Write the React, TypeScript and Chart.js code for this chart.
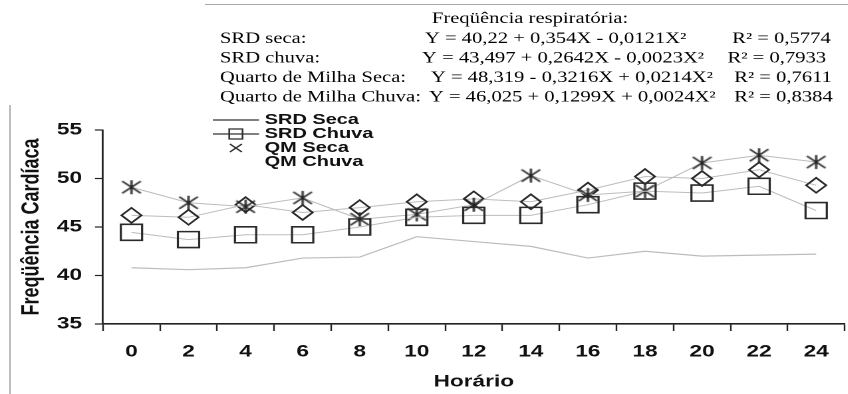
import React, { useEffect, useRef } from 'react';
import { Chart, registerables } from 'chart.js';

Chart.register(...registerables);

// ---------- data ----------
const hours = ['0', '2', '4', '6', '8', '10', '12', '14', '16', '18', '20', '22', '24'];
const srdSeca = [40.8, 40.6, 40.8, 41.8, 41.9, 44.0, 43.5, 43.0, 41.8, 42.5, 42.0, 42.1, 42.2];
const srdChuva = [44.45, 43.7, 44.2, 44.2, 45.0, 46.0, 46.2, 46.2, 47.3, 48.7, 48.5, 49.2, 46.7];
const qmSeca = [49.1, 47.5, 47.1, 48.0, 45.8, 46.3, 47.3, 50.3, 48.3, 48.7, 51.6, 52.4, 51.7];
const qmChuva = [46.2, 46.0, 47.3, 46.5, 47.0, 47.6, 47.9, 47.6, 48.8, 50.2, 50.0, 50.9, 49.3];
const seriesLabels = ['SRD Seca', 'SRD Chuva', 'QM Seca', 'QM Chuva'];
const yMin = 35;
const yMax = 55;
const yStep = 5;
const xTitle = 'Horário';
const yTitle = 'Freqüência Cardíaca';
const headerTitle = 'Freqüência respiratória:';
const eqNames = ['SRD seca:', 'SRD chuva:', 'Quarto de Milha Seca:', 'Quarto de Milha Chuva:'];
const eqFormulas = [
  'Y = 40,22 + 0,354X - 0,0121X²',
  'Y = 43,497 + 0,2642X - 0,0023X²',
  'Y = 48,319 - 0,3216X + 0,0214X²',
  'Y = 46,025 + 0,1299X + 0,0024X²',
];
const eqR2 = ['R² = 0,5774', 'R² = 0,7933', 'R² = 0,7611', 'R² = 0,8384'];

// ---------- layout (chart-space px; canvas is stretched horizontally) ----------
const STRETCH = 1.33;
const CW = 648;
const CH = 394;

function makeAsterisk(size: number, lw: number, color: string) {
  const c = document.createElement('canvas');
  c.width = size;
  c.height = size;
  const g = c.getContext('2d')!;
  g.strokeStyle = color;
  g.lineWidth = lw;
  const m = 1;
  g.beginPath();
  g.moveTo(m, m + 1);
  g.lineTo(size - m, size - m - 1);
  g.moveTo(size - m, m + 1);
  g.lineTo(m, size - m - 1);
  g.moveTo(size / 2, m);
  g.lineTo(size / 2, size - m);
  g.stroke();
  return c;
}

const overlayPlugin = {
  id: 'overlay',
  afterDraw(chart: any) {
    const ctx = chart.ctx as CanvasRenderingContext2D;
    ctx.save();
    // frame remnants
    ctx.strokeStyle = '#a8a8a8';
    ctx.lineWidth = 1;
    ctx.beginPath();
    ctx.moveTo(154, 4.5);
    ctx.lineTo(chart.width, 4.5);
    ctx.moveTo(7.5, 105);
    ctx.lineTo(7.5, chart.height);
    ctx.stroke();

    // header with regression equations
    ctx.fillStyle = '#000';
    ctx.font = '15.5px "Liberation Serif"';
    ctx.textBaseline = 'middle';
    ctx.textAlign = 'center';
    ctx.fillText(headerTitle, 398.5, 19);
    ctx.textAlign = 'left';
    const rowY = [39, 58.5, 78, 97.5];
    const eqX = [319.5, 317.3, 324, 322.5];
    const r2X = [550.5, 547, 552, 552];
    eqNames.forEach((n, i) => {
      ctx.fillText(n, 165.4, rowY[i]);
      ctx.fillText(eqFormulas[i], eqX[i], rowY[i]);
      ctx.fillText(eqR2[i], r2X[i], rowY[i]);
    });

    // legend
    const ds = chart.data.datasets;
    const legY = [120, 134, 148, 162];
    const x1 = 160;
    const x2 = 194.7;
    const mx = (x1 + x2) / 2;
    ctx.font = 'bold 15px "Liberation Sans"';
    ctx.fillStyle = '#111';
    ctx.strokeStyle = '#333';
    ctx.lineWidth = 1.3;
    ds.forEach((d: any, i: number) => {
      const y = legY[i];
      if (i === 0 || i === 1) {
        ctx.beginPath();
        ctx.moveTo(x1, y);
        ctx.lineTo(x2, y);
        ctx.stroke();
      }
      if (i === 1) {
        ctx.strokeRect(mx - 5, y - 5, 10, 10);
      }
      if (i === 2) {
        ctx.beginPath();
        ctx.moveTo(mx - 4.5, y - 4);
        ctx.lineTo(mx + 4.5, y + 4);
        ctx.moveTo(mx + 4.5, y - 4);
        ctx.lineTo(mx - 4.5, y + 4);
        ctx.stroke();
      }
      ctx.fillText(d.label, 199, y);
    });
    ctx.restore();
  },
};

export default function App() {
  const ref = useRef<HTMLCanvasElement | null>(null);

  useEffect(() => {
    const canvas = ref.current;
    if (!canvas) return;
    const asterisk = makeAsterisk(16, 1.6, '#222');
    const lineColor = '#bcbcbc';
    const markColor = '#2a2a2a';
    const tickFont = { family: '"Liberation Sans", Arial, sans-serif', weight: 'bold' as const, size: 17 };

    const chart = new Chart(canvas, {
      type: 'line',
      data: {
        labels: hours,
        datasets: [
          {
            label: seriesLabels[0],
            data: srdSeca,
            borderColor: lineColor,
            borderWidth: 1.2,
            pointRadius: 0,
            fill: false,
          },
          {
            label: seriesLabels[1],
            data: srdChuva,
            borderColor: lineColor,
            borderWidth: 1,
            pointStyle: 'rect',
            pointRadius: 11.3,
            pointBorderColor: markColor,
            pointBackgroundColor: 'rgba(0,0,0,0)',
            pointBorderWidth: 1.6,
            fill: false,
          },
          {
            label: seriesLabels[2],
            data: qmSeca,
            borderColor: lineColor,
            borderWidth: 1,
            pointStyle: asterisk as any,
            pointRadius: 8,
            fill: false,
          },
          {
            label: seriesLabels[3],
            data: qmChuva,
            borderColor: lineColor,
            borderWidth: 1,
            pointStyle: 'rectRot',
            pointRadius: 7.5,
            pointBorderColor: markColor,
            pointBackgroundColor: 'rgba(0,0,0,0)',
            pointBorderWidth: 1.6,
            fill: false,
          },
        ],
      },
      options: {
        responsive: false,
        animation: false,
        devicePixelRatio: 2,
        layout: { padding: { top: 130, left: 0, right: 0, bottom: 0 } },
        plugins: {
          legend: { display: false },
          tooltip: { enabled: false },
        },
        elements: { line: { tension: 0 } },
        scales: {
          x: {
            type: 'category',
            offset: true,
            grid: {
              offset: true,
              drawOnChartArea: false,
              drawTicks: true,
              tickLength: 7,
              tickColor: '#222',
              tickWidth: 1.2,
            },
            border: { display: true, color: '#222', width: 1.6 },
            ticks: {
              font: tickFont,
              color: '#111',
              padding: 10.8,
              maxRotation: 0,
              autoSkip: false,
            },
            title: {
              display: true,
              text: xTitle,
              font: tickFont,
              color: '#111',
              padding: { top: 0, bottom: 1.8 },
            },
            afterFit: (s: any) => {
              s.height = 70;
            },
          },
          y: {
            min: yMin,
            max: yMax,
            grid: {
              drawOnChartArea: false,
              drawTicks: true,
              tickLength: 6,
              tickColor: '#222',
              tickWidth: 1.2,
            },
            border: { display: true, color: '#222', width: 1.4 },
            ticks: {
              stepSize: yStep,
              font: tickFont,
              color: '#111',
              padding: 9.7,
            },
            title: {
              display: true,
              text: yTitle,
              font: { family: '"Liberation Sans", Arial, sans-serif', weight: 'bold', size: 18 },
              color: '#111',
              padding: { top: 13.2, bottom: 0 },
            },
            afterFit: (s: any) => {
              s.width = 77.4;
            },
          },
        },
      },
      plugins: [overlayPlugin],
    });
    return () => chart.destroy();
  }, []);

  return (
    <div
      style={{
        position: 'absolute',
        left: 0,
        top: 0,
        width: 848,
        height: 394,
        overflow: 'hidden',
        background: '#fff',
      }}
    >
      <canvas
        ref={ref}
        width={CW}
        height={CH}
        style={{
          position: 'absolute',
          left: 0,
          top: 0,
          width: CW,
          height: CH,
          transform: `scaleX(${STRETCH})`,
          transformOrigin: '0 0',
        }}
      />
    </div>
  );
}
